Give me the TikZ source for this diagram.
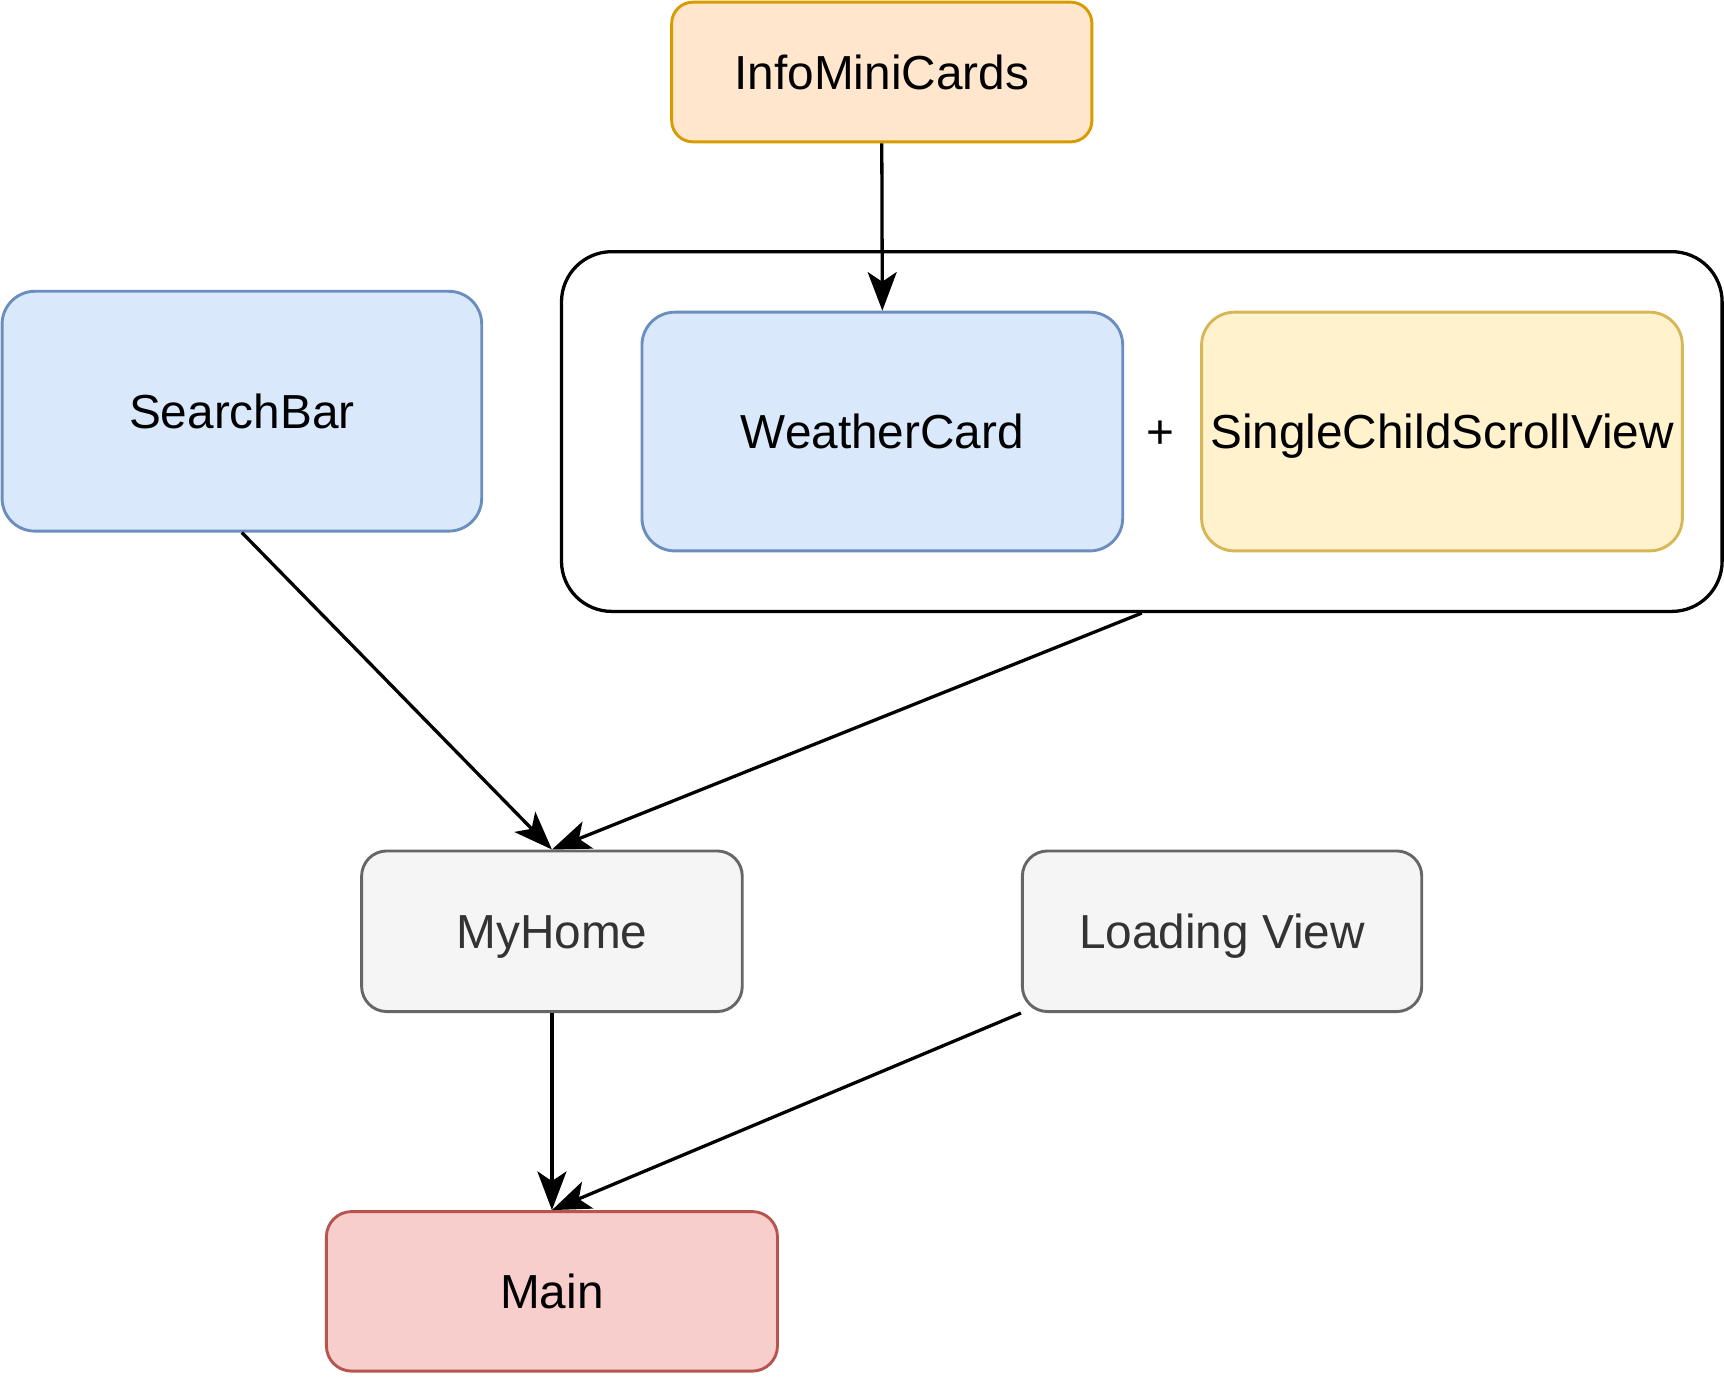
\documentclass[tikz,border=0pt]{standalone}
\usepackage{fontspec}
\setmainfont{Liberation Sans}
\usetikzlibrary{arrows.meta}
\definecolor{orgF}{HTML}{FFE6CC}\definecolor{orgD}{HTML}{D79B00}
\definecolor{bluF}{HTML}{DAE8FC}\definecolor{bluD}{HTML}{6C8EBF}
\definecolor{yelF}{HTML}{FFF2CC}\definecolor{yelD}{HTML}{D6B656}
\definecolor{gryF}{HTML}{F5F5F5}\definecolor{gryD}{HTML}{666666}\definecolor{gryT}{HTML}{333333}
\definecolor{redF}{HTML}{F8CECC}\definecolor{redD}{HTML}{B85450}
\tikzset{
  lbl/.style={font=\fontsize{12.35}{14}\selectfont, text height=8.85pt, text depth=0pt},
  box/.style={lbl, draw, rectangle, inner sep=0pt, line width=0.75pt},
  orangebox/.style={box, fill=orgF, draw=orgD, rounded corners=5.5pt},
  bluebox/.style={box, fill=bluF, draw=bluD, rounded corners=8.5pt},
  yellowbox/.style={box, fill=yelF, draw=yelD, rounded corners=8.5pt},
  graybox/.style={box, fill=gryF, draw=gryD, text=gryT, rounded corners=6.5pt},
  redbox/.style={box, fill=redF, draw=redD, rounded corners=6.5pt},
  groupbox/.style={draw=black, rectangle, inner sep=0pt, line width=0.85pt, rounded corners=13pt},
  conn/.style={line width=0.85pt, -{Stealth[length=10pt, width=7.5pt, inset=2.5pt]}},
}
\begin{document}
\begin{tikzpicture}[x=0.01cm, y=-0.01cm]
\useasboundingbox (0,0) rectangle (1568,1252);
\node[orangebox, minimum width=3.82cm, minimum height=1.27cm] (info) at (802,65.5) {InfoMiniCards};
\node[groupbox, minimum width=10.55cm, minimum height=3.27cm] (grp) at (1038.5,392.5) {};
\node[bluebox, minimum width=4.37cm, minimum height=2.17cm] (weather) at (802.5,392.5) {WeatherCard};
\node[yellowbox, minimum width=4.37cm, minimum height=2.17cm] (scroll) at (1311.5,392.5) {SingleChildScrollView};
\node[lbl, inner sep=0pt] (plus) at (1055,392.5) {+};
\node[bluebox, minimum width=4.36cm, minimum height=2.18cm] (search) at (220,374) {SearchBar};
\node[graybox, minimum width=3.46cm, minimum height=1.46cm] (home) at (502,847) {MyHome};
\node[graybox, minimum width=3.63cm, minimum height=1.46cm] (loading) at (1111.5,847) {Loading View};
\node[redbox, minimum width=4.10cm, minimum height=1.45cm] (main) at (502,1174.5) {Main};
\draw[conn] (info.south) -- (weather.north);
\draw[conn] (search.south) -- (home.north);
\draw[conn] (grp.south) -- (home.north);
\draw[conn] (home.south) -- (main.north);
\draw[conn] (loading.south west) -- (main.north);
\end{tikzpicture}
\end{document}
